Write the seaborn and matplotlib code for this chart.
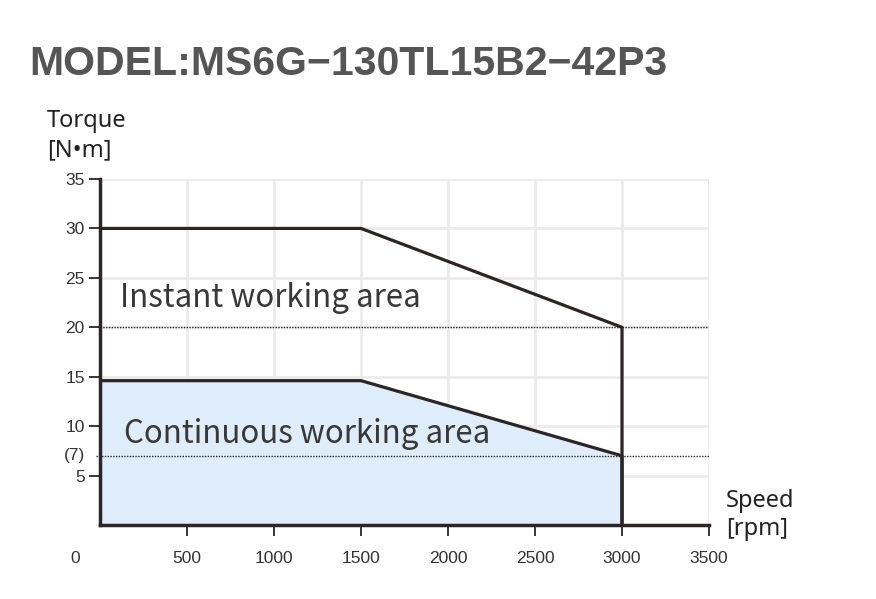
import matplotlib
matplotlib.use('Agg')
import matplotlib.pyplot as plt
import seaborn as sns
import pandas as pd

# Torque-speed curve data
speed_pts = [0, 1500, 3000, 3000]
instant_torque = [30, 30, 20, 0]
continuous_torque = [14.6, 14.6, 7, 0]
x_ticks = [500, 1000, 1500, 2000, 2500, 3000, 3500]
y_ticks = [5, 10, 15, 20, 25, 30, 35]
ref_levels = [20, 7]

df = pd.DataFrame({
    'speed': speed_pts * 2,
    'torque': instant_torque + continuous_torque,
    'area': ['instant'] * 4 + ['continuous'] * 4,
})

sns.set_style('white')
plt.rcParams['font.family'] = ['Noto Sans CJK SC', 'DejaVu Sans']

dark = '#2b2525'
fig = plt.figure(figsize=(8.76, 5.99), dpi=100)
ax = fig.add_axes([100 / 876, 74 / 599, 609 / 876, 346 / 599])

# grid
for xv in x_ticks:
    ax.axvline(xv, color='#ebebeb', lw=2, zorder=0)
for yv in y_ticks:
    ax.axhline(yv, color='#ebebeb', lw=2, zorder=0)

# continuous area fill
ax.fill_between(speed_pts[:3], continuous_torque[:3], 0, color='#deedf9', zorder=1)

sns.lineplot(data=df, x='speed', y='torque', units='area', estimator=None, sort=False,
             color=dark, lw=2.3, ax=ax, zorder=3)

# dotted reference lines
ax.hlines(ref_levels[0], 0, 3500, colors=dark, linestyles=(0, (1, 1)), lw=1, zorder=2)
ax.hlines(ref_levels[1], -25, 3500, colors=dark, linestyles=(0, (1, 1)), lw=1, zorder=2,
          clip_on=False)

ax.set_xlim(0, 3500)
ax.set_ylim(0, 35)
ax.set_xticks(x_ticks)
ax.set_yticks(y_ticks)
ax.set_xticklabels([str(v) for v in x_ticks], family='Liberation Sans', fontsize=12.5, color='#333333')
ax.set_yticklabels([str(v) for v in y_ticks], family='Liberation Sans', fontsize=12.5, color='#333333')
ax.tick_params(axis='both', bottom=True, left=True, length=8, width=1.3, color=dark, pad=3)
ax.tick_params(axis='x', pad=11)
ax.set_xlabel('')
ax.set_ylabel('')
ax.grid(False)

for side in ['top', 'right']:
    ax.spines[side].set_visible(False)
for side in ['left', 'bottom']:
    ax.spines[side].set_color(dark)
    ax.spines[side].set_linewidth(2.5)

# extra labels
ax.text(-143, -3.4, '0', family='Liberation Sans', fontsize=12.5, color='#333333',
        ha='center', va='center', clip_on=False)
ax.text(-85, 7.0, '(7)', family='Liberation Sans', fontsize=12.5, color='#333333',
        ha='right', va='center', clip_on=False)

ax.text(115, 23, 'Instant working area', fontsize=22.5, fontweight='light', color='#383838', va='center')
ax.text(138, 9.2, 'Continuous working area', fontsize=22.5, fontweight='light', color='#383838', va='center')

lab = dict(family=['Noto Sans', 'DejaVu Sans'], fontsize=17, color='#222222', va='center')
fig.text(47 / 876, 1 - 121 / 599, 'Torque', **lab)
fig.text(47 / 876, 1 - 150 / 599, '[N•m]', **lab)
fig.text(726 / 876, 1 - 501 / 599, 'Speed', **lab)
fig.text(726 / 876, 1 - 529 / 599, '[rpm]', **lab)

fig.text(29 / 876, 1 - 64 / 599, 'MODEL:MS6G\u2212130TL15B2\u221242P3',
         family='Liberation Sans', fontsize=29.5, fontweight='bold', color='#555555', va='center')

fig.savefig('out.png', dpi=100)
